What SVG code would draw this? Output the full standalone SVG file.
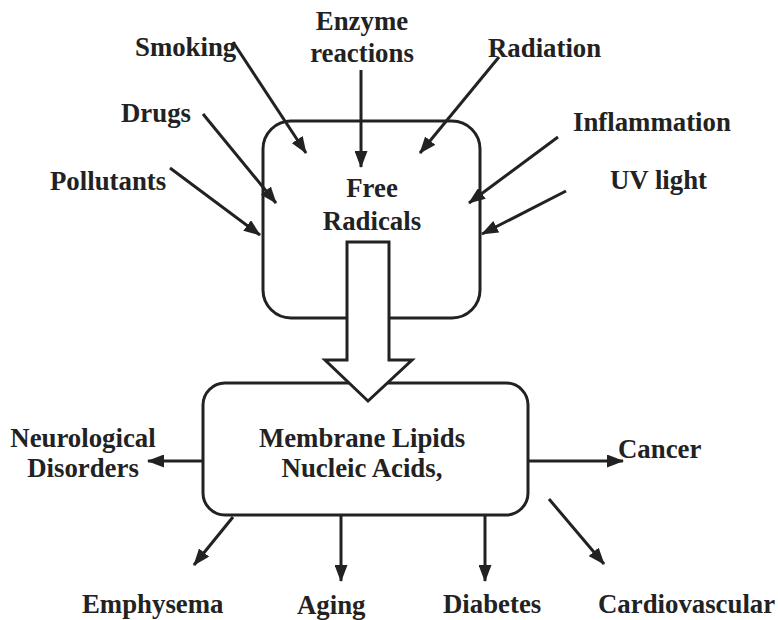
<svg xmlns="http://www.w3.org/2000/svg" width="778" height="620" viewBox="0 0 778 620">
<defs>
<marker id="ah" markerWidth="17" markerHeight="13" refX="16" refY="6.5" orient="auto" markerUnits="userSpaceOnUse">
<path d="M0,0 L17,6.5 L0,13 Z" fill="#222"/>
</marker>
<style>
text{font-family:"Liberation Serif","Times New Roman",serif;font-weight:bold;font-size:26.8px;fill:#222}
.box{fill:#fff;stroke:#222;stroke-width:3}
.c{stroke:#222;stroke-width:3;fill:none;marker-end:url(#ah)}
.m{text-anchor:middle}
</style>
</defs>
<rect width="778" height="620" fill="#fff"/>
<g id="free-radicals">
<rect class="box" x="263" y="121" width="217" height="197" rx="28"/>
<text class="m" x="372" y="197">Free</text>
<text class="m" x="372" y="230">Radicals</text>
</g>
<g id="membrane">
<rect class="box" x="203" y="383" width="325" height="132" rx="22"/>
<text class="m" x="362" y="447">Membrane Lipids</text>
<text class="m" x="362" y="477">Nucleic Acids,</text>
</g>
<g id="big-arrow">
<path class="box" d="M347,242 L389,242 L389,360 L412,360 L368,401 L325,360 L347,360 Z" stroke-linejoin="miter"/>
</g>
<g id="labels">
<text id="smoking" x="135" y="56">Smoking</text>
<text class="m" id="enzyme" x="362" y="30">Enzyme</text>
<text class="m" x="362" y="62">reactions</text>
<text id="radiation" x="488" y="57">Radiation</text>
<text id="drugs" x="121" y="122">Drugs</text>
<text id="inflammation" x="573" y="131">Inflammation</text>
<text id="pollutants" x="50" y="190">Pollutants</text>
<text id="uv" x="610" y="189">UV light</text>
<text class="m" id="neuro" x="83" y="447">Neurological</text>
<text class="m" x="83" y="477">Disorders</text>
<text id="cancer" x="618" y="458">Cancer</text>
<text id="emphysema" x="82" y="613">Emphysema</text>
<text id="aging" x="297" y="614">Aging</text>
<text id="diabetes" x="443" y="613">Diabetes</text>
<text id="cardio" x="598" y="613">Cardiovascular</text>
</g>
<g id="connectors">
<line class="c" x1="233" y1="42" x2="306" y2="153"/>
<line class="c" x1="361" y1="70" x2="361" y2="167"/>
<line class="c" x1="499" y1="57" x2="420" y2="153"/>
<line class="c" x1="203" y1="114" x2="276" y2="203"/>
<line class="c" x1="558" y1="137" x2="469" y2="203"/>
<line class="c" x1="170" y1="168" x2="260" y2="235"/>
<line class="c" x1="566" y1="191" x2="482" y2="234"/>
<line class="c" x1="203" y1="461" x2="148" y2="461"/>
<line class="c" x1="528" y1="461" x2="623" y2="461"/>
<line class="c" x1="233" y1="517" x2="194" y2="565"/>
<line class="c" x1="341" y1="516" x2="341" y2="581"/>
<line class="c" x1="485" y1="516" x2="485" y2="581"/>
<line class="c" x1="549" y1="499" x2="604" y2="564"/>
</g>
</svg>
